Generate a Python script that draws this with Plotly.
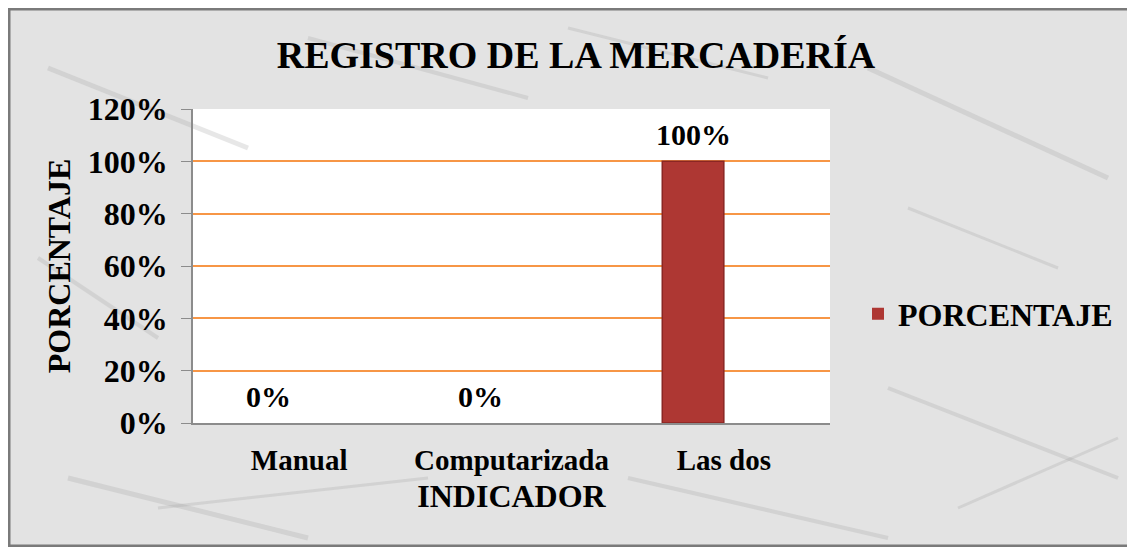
import plotly.graph_objects as go

categories = ["Manual", "Computarizada", "Las dos"]
values = [0.0, 0.0, 1.0]
labels = ["0%", "0%", "100%"]
series_name = "PORCENTAJE"
y_ticks = [0, 0.2, 0.4, 0.6, 0.8, 1.0, 1.2]
y_tick_text = ["0%", "20%", "40%", "60%", "80%", "100%", "120%"]

W, H = 1127, 539
L, R, T, B = 185, 822, 101, 415
pw, ph = R - L, B - T
BAR_OFFSET, BAR_WIDTH = -0.29, 0.29

def px(x):
    return (x - L) / pw

def py(y):
    return (B - y) / ph

FONT = "Liberation Serif"

fig = go.Figure()
fig.add_trace(go.Bar(
    x=categories, y=values, name="<b>" + series_name + "</b>",
    offset=BAR_OFFSET, width=BAR_WIDTH,
    marker=dict(color="#AE3733", line=dict(color="#8A2623", width=[0 if v == 0 else 1.5 for v in values])),
))

# data labels above each bar
cat_px = pw / len(categories)
for c, v, t in zip(categories, values, labels):
    fig.add_annotation(x=c, y=v, xref="x", yref="y", text="<b>" + t + "</b>",
                       showarrow=False, yanchor="bottom", yshift=8,
                       xshift=(BAR_OFFSET + BAR_WIDTH / 2) * cat_px,
                       font=dict(family=FONT, size=30, color="black"))

fig.update_layout(
    width=W, height=H,
    margin=dict(l=L, r=W - R, t=T, b=H - B),
    paper_bgcolor="#E3E3E3", plot_bgcolor="white",
    title=dict(text="<b>REGISTRO DE LA MERCADERÍA</b>", x=px(568), xref="paper", xanchor="center",
               y=1 - 47 / H, yanchor="middle",
               font=dict(family=FONT, size=38, color="black")),
    font=dict(family=FONT, color="black"),
    showlegend=True,
    legend=dict(x=px(850), y=py(306), xanchor="left", yanchor="middle",
                bgcolor="rgba(0,0,0,0)", font=dict(family=FONT, size=32, color="black"),
                itemwidth=30),
)

fig.update_yaxes(
    range=[0, 1.2], tickvals=y_ticks, ticktext=["<b>" + t + "</b>" for t in y_tick_text],
    tickfont=dict(family=FONT, size=32, color="black"), ticklabelstandoff=7,
    showgrid=True, gridcolor="#F79646", gridwidth=1.5,
    showline=True, linecolor="#8C8C8C", linewidth=1.5,
    ticks="outside", ticklen=10, tickcolor="#8C8C8C", zeroline=False,
    title=dict(text="<b>PORCENTAJE</b>", font=dict(family=FONT, size=32, color="black"), standoff=8),
)
fig.update_xaxes(
    tickfont=dict(family=FONT, size=29, color="black"), ticklabelstandoff=10,
    showline=True, linecolor="#8C8C8C", linewidth=2,
    ticks="", showgrid=False,
    ticktext=["<b>" + c + "</b>" for c in categories], tickvals=categories,
    title=dict(text="<b>INDICADOR</b>", font=dict(family=FONT, size=32, color="black"), standoff=10),
)

# frame
fig.add_shape(type="rect", xref="paper", yref="paper",
              x0=px(1), x1=px(W - 1), y0=py(H - 1), y1=py(1),
              line=dict(color="#7A7A7A", width=3), layer="below")
# subtle marble streaks
streaks = [(40, 60, 240, 140, 5), (300, 30, 520, 90, 4), (860, 60, 1100, 170, 5), (880, 380, 1110, 470, 4),
           (60, 470, 300, 530, 5), (620, 470, 880, 530, 4), (30, 250, 150, 330, 4), (900, 200, 1050, 260, 3),
           (560, 20, 760, 70, 3), (150, 500, 420, 470, 3), (950, 500, 1110, 430, 3)]
for x0, y0, x1, y1, w in streaks:
    fig.add_shape(type="line", xref="paper", yref="paper",
                  x0=px(x0), y0=py(y0), x1=px(x1), y1=py(y1),
                  line=dict(color="rgba(160,160,160,0.25)", width=w), layer="below")

fig.write_html("out.html")
